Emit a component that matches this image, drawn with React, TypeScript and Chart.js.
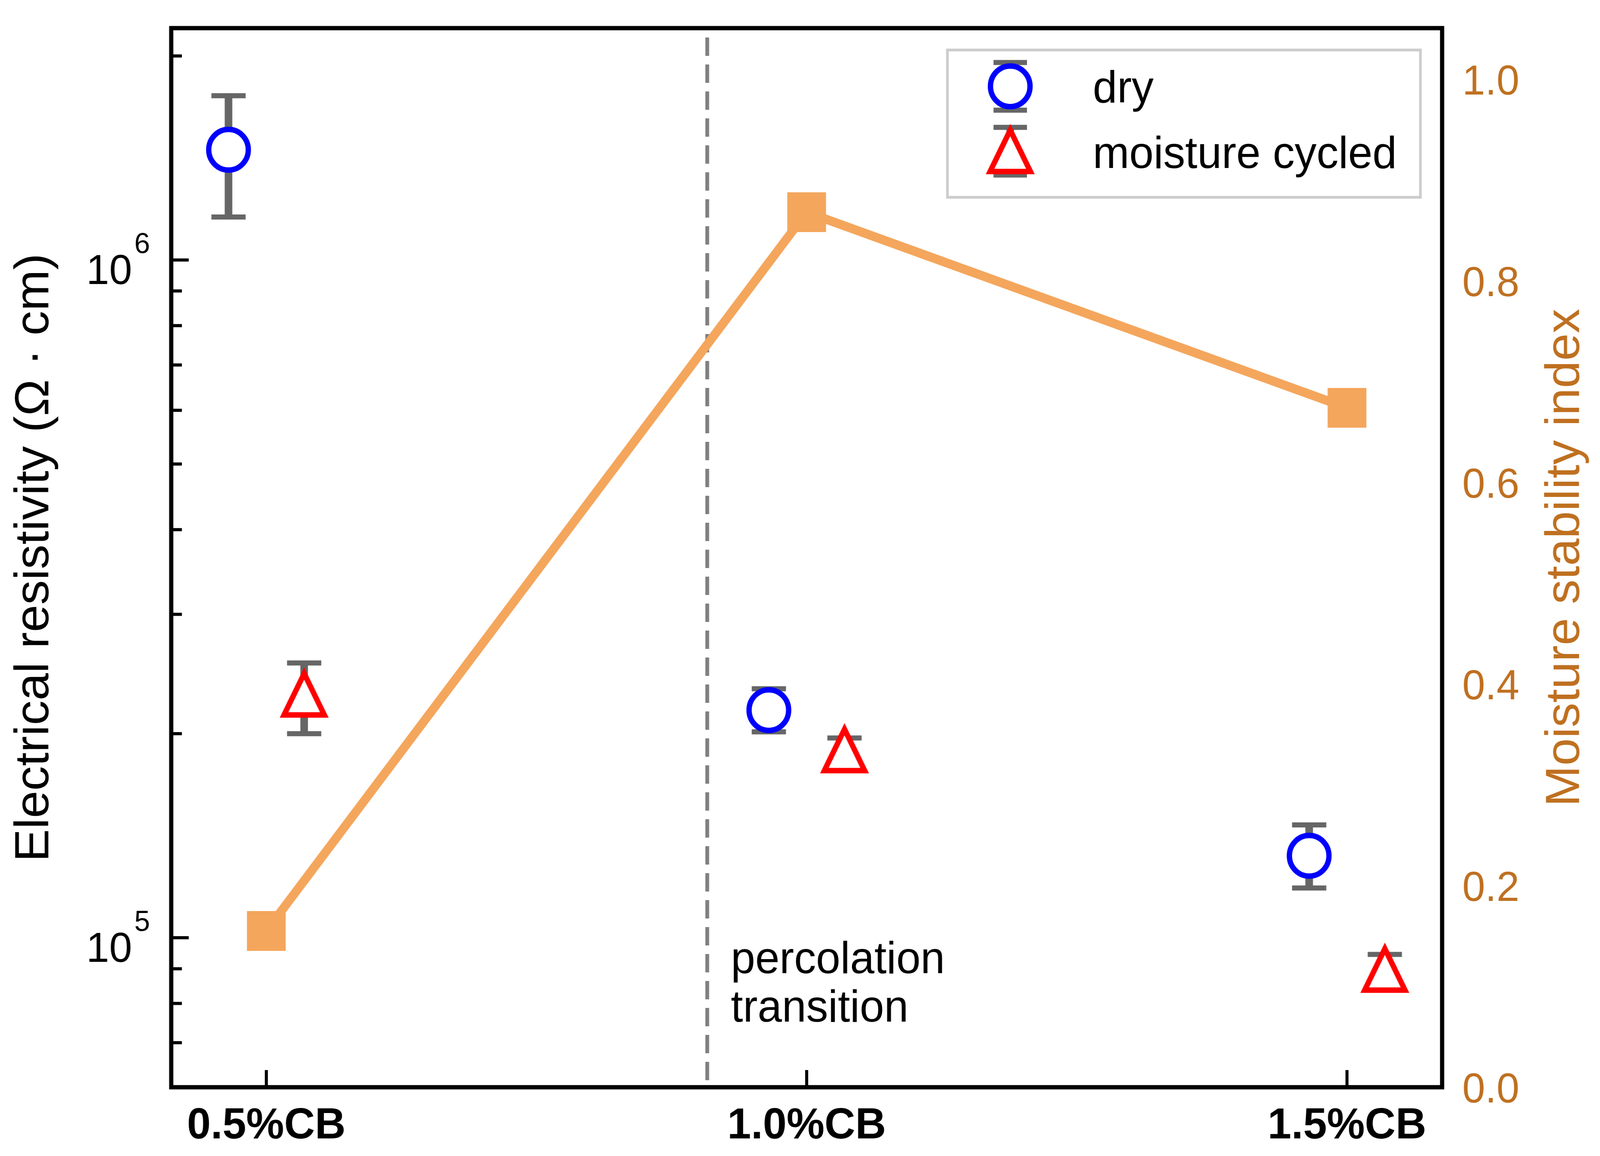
import React, { useEffect, useRef } from 'react';
import { Chart, registerables } from 'chart.js';

Chart.register(...registerables);

const W = 4205;
const H = 2959;

// ---- data ----
const categories = ['0.5%CB', '1.0%CB', '1.5%CB'];
const cbContent = [0.5, 1.0, 1.5];
const dryResistivity = [1.454e6, 2.167e5, 1.321e5];
const dryUpper = [1.747e6, 2.33e5, 1.467e5];
const dryLower = [1.157e6, 2.013e5, 1.184e5];
const moistResistivity = [2.287e5, 1.893e5, 8.98e4];
const moistUpper = [2.543e5, 1.971e5, 9.45e4];
const moistLower = [2.0e5, 1.817e5, 8.53e4];
const stabilityIndex = [0.155, 0.868, 0.674];
const rightTicks = [0, 0.2, 0.4, 0.6, 0.8, 1.0];
const leftMajorTicks = [1e5, 1e6];
const leftMinorTicks = [7e4, 8e4, 9e4, 2e5, 3e5, 4e5, 5e5, 6e5, 7e5, 8e5, 9e5, 2e6];
const percolationX = 0.908;
const dodge = 0.035;

// ---- styles ----
const FONT = '"Liberation Sans", Arial, Helvetica, sans-serif';
const ORANGE = '#F4A65C';
const RIGHT_COLOR = '#BF7020';
const ERR_COLOR = '#666666';
const BLUE = '#0000FF';
const RED = '#FF0000';

function makeTriangle(): HTMLCanvasElement {
  const c = document.createElement('canvas');
  c.width = 150;
  c.height = 150;
  const g = c.getContext('2d')!;
  const cx = 75, cy = 75, s = 53;
  g.beginPath();
  g.moveTo(cx, cy - s);
  g.lineTo(cx - s, cy + s);
  g.lineTo(cx + s, cy + s);
  g.closePath();
  g.fillStyle = '#ffffff';
  g.fill();
  g.lineWidth = 14;
  g.lineJoin = 'miter';
  g.miterLimit = 10;
  g.strokeStyle = RED;
  g.stroke();
  return c;
}

function drawCircleMarker(ctx: CanvasRenderingContext2D, x: number, y: number) {
  ctx.beginPath();
  ctx.arc(x, y, 52, 0, Math.PI * 2);
  ctx.fillStyle = '#ffffff';
  ctx.fill();
  ctx.lineWidth = 14;
  ctx.strokeStyle = BLUE;
  ctx.stroke();
}

function drawErrorBar(ctx: CanvasRenderingContext2D, px: number, pHi: number, pLo: number, capHalf = 45) {
  ctx.save();
  ctx.strokeStyle = ERR_COLOR;
  ctx.lineCap = 'butt';
  ctx.lineWidth = 20;
  ctx.beginPath();
  ctx.moveTo(px, pHi);
  ctx.lineTo(px, pLo);
  ctx.stroke();
  ctx.lineWidth = 13;
  ctx.beginPath();
  ctx.moveTo(px - capHalf, pHi);
  ctx.lineTo(px + capHalf, pHi);
  ctx.moveTo(px - capHalf, pLo);
  ctx.lineTo(px + capHalf, pLo);
  ctx.stroke();
  ctx.restore();
}

export default function App() {
  const ref = useRef<HTMLCanvasElement | null>(null);

  useEffect(() => {
    document.body.style.margin = '0';
    document.body.style.overflow = 'hidden';
    const canvas = ref.current;
    if (!canvas) return;
    // fit the 4205x2959 drawing into the actual viewport
    canvas.style.width = `${window.innerWidth}px`;
    canvas.style.height = `${window.innerHeight}px`;
    const tri = makeTriangle();

    const decorations = {
      id: 'decorations',
      beforeDatasetsDraw(chart: any) {
        const ctx: CanvasRenderingContext2D = chart.ctx;
        const { x, y } = chart.scales;
        const area = chart.chartArea;
        const px = x.getPixelForValue(percolationX);
        ctx.save();
        ctx.strokeStyle = '#808080';
        ctx.lineWidth = 10;
        ctx.setLineDash([47, 22]);
        ctx.lineDashOffset = 51;
        ctx.beginPath();
        ctx.moveTo(px, area.bottom);
        ctx.lineTo(px, area.top);
        ctx.stroke();
        ctx.restore();
        cbContent.forEach((cb, i) => {
          drawErrorBar(ctx, x.getPixelForValue(cb - dodge), y.getPixelForValue(dryUpper[i]), y.getPixelForValue(dryLower[i]));
          drawErrorBar(ctx, x.getPixelForValue(cb + dodge), y.getPixelForValue(moistUpper[i]), y.getPixelForValue(moistLower[i]));
        });
      },
      afterDatasetsDraw(chart: any) {
        const ctx: CanvasRenderingContext2D = chart.ctx;
        const { x, y, y1 } = chart.scales;
        const area = chart.chartArea;
        ctx.save();
        // frame
        ctx.strokeStyle = '#000000';
        ctx.lineWidth = 11;
        ctx.strokeRect(area.left, area.top, area.right - area.left, area.bottom - area.top);
        // ticks
        ctx.lineWidth = 8;
        ctx.beginPath();
        leftMajorTicks.forEach((v) => {
          const p = y.getPixelForValue(v);
          ctx.moveTo(area.left, p);
          ctx.lineTo(area.left + 46, p);
        });
        leftMinorTicks.forEach((v) => {
          const p = y.getPixelForValue(v);
          ctx.moveTo(area.left, p);
          ctx.lineTo(area.left + 28, p);
        });
        cbContent.forEach((cb) => {
          const p = x.getPixelForValue(cb);
          ctx.moveTo(p, area.bottom);
          ctx.lineTo(p, area.bottom - 44);
        });
        ctx.stroke();

        // left tick labels 10^n
        ctx.fillStyle = '#000000';
        ctx.textBaseline = 'alphabetic';
        leftMajorTicks.forEach((v) => {
          const p = y.getPixelForValue(v);
          const exp = Math.round(Math.log10(v));
          ctx.font = `108px ${FONT}`;
          ctx.textAlign = 'right';
          ctx.fillText('10', area.left - 103, p + 62);
          ctx.font = `74px ${FONT}`;
          ctx.textAlign = 'left';
          ctx.fillText(String(exp), area.left - 97, p - 17);
        });

        // bottom tick labels
        ctx.font = `bold 112px ${FONT}`;
        ctx.textAlign = 'center';
        categories.forEach((c, i) => {
          ctx.fillText(c, x.getPixelForValue(cbContent[i]), area.bottom + 131);
        });

        // right tick labels
        ctx.fillStyle = RIGHT_COLOR;
        ctx.font = `108px ${FONT}`;
        ctx.textAlign = 'left';
        rightTicks.forEach((v) => {
          ctx.fillText(v.toFixed(1), area.right + 53, y1.getPixelForValue(v) + 39);
        });

        // axis titles
        const cy = (area.top + area.bottom) / 2;
        ctx.font = `126px ${FONT}`;
        ctx.textAlign = 'center';
        ctx.save();
        ctx.translate(127, cy);
        ctx.rotate(-Math.PI / 2);
        ctx.fillStyle = '#000000';
        ctx.fillText('Electrical resistivity (Ω · cm)', 0, 0);
        ctx.restore();
        ctx.save();
        ctx.translate(area.right + 360, cy);
        ctx.rotate(-Math.PI / 2);
        ctx.fillStyle = RIGHT_COLOR;
        ctx.fillText('Moisture stability index', 0, 0);
        ctx.restore();

        // percolation annotation
        const px = x.getPixelForValue(percolationX);
        ctx.fillStyle = '#000000';
        ctx.font = `115px ${FONT}`;
        ctx.textAlign = 'left';
        ctx.fillText('percolation', px + 62, 2491);
        ctx.fillText('transition', px + 62, 2615);

        // legend
        const lx = area.right - 1300;
        const ly = area.top + 56;
        ctx.fillStyle = '#ffffff';
        ctx.fillRect(lx, ly, 1243, 377);
        ctx.strokeStyle = '#CCCCCC';
        ctx.lineWidth = 7;
        ctx.strokeRect(lx, ly, 1243, 377);
        const mx = lx + 165;
        const dryY = ly + 93;
        const moY = ly + 258;
        drawErrorBar(ctx, mx, dryY - 61, dryY + 61, 44);
        drawCircleMarker(ctx, mx, dryY);
        drawErrorBar(ctx, mx, moY - 60, moY + 62, 44);
        ctx.drawImage(tri, mx - tri.width / 2, moY - tri.height / 2);
        ctx.fillStyle = '#000000';
        ctx.font = `115px ${FONT}`;
        ctx.textAlign = 'left';
        ctx.fillText('dry', lx + 382, ly + 134);
        ctx.fillText('moisture cycled', lx + 382, ly + 302);
        ctx.restore();
      },
    };

    const chart = new Chart(canvas, {
      type: 'scatter',
      data: {
        datasets: [
          {
            type: 'line',
            label: 'Moisture stability index',
            data: cbContent.map((cb, i) => ({ x: cb, y: stabilityIndex[i] })),
            yAxisID: 'y1',
            borderColor: ORANGE,
            borderWidth: 23,
            borderJoinStyle: 'round',
            tension: 0,
            pointStyle: 'rect',
            pointRadius: 72,
            pointBackgroundColor: ORANGE,
            pointBorderWidth: 0,
            pointBorderColor: ORANGE,
            order: 3,
          } as any,
          {
            label: 'dry',
            data: cbContent.map((cb, i) => ({ x: cb - dodge, y: dryResistivity[i] })),
            yAxisID: 'y',
            pointStyle: 'circle',
            pointRadius: 52,
            pointBorderWidth: 14,
            pointBorderColor: BLUE,
            pointBackgroundColor: '#ffffff',
            showLine: false,
            order: 1,
          },
          {
            label: 'moisture cycled',
            data: cbContent.map((cb, i) => ({ x: cb + dodge, y: moistResistivity[i] })),
            yAxisID: 'y',
            pointStyle: tri as any,
            pointRadius: 60,
            showLine: false,
            order: 0,
          },
        ],
      },
      options: {
        responsive: false,
        devicePixelRatio: 1,
        animation: false,
        events: [],
        layout: { padding: { left: 450, right: 415, top: 42, bottom: 176 } },
        plugins: { legend: { display: false }, tooltip: { enabled: false } },
        scales: {
          x: { type: 'linear', min: 0.412, max: 1.588, display: false, bounds: 'data' },
          y: { type: 'logarithmic', min: 6.018e4, max: 2.198e6, display: false, bounds: 'data' },
          y1: { type: 'linear', position: 'right', min: 0, max: 1.0506, display: false, bounds: 'data' },
        },
      } as any,
      plugins: [decorations],
    });

    return () => chart.destroy();
  }, []);

  return (
    <div style={{ background: '#ffffff' }}>
      <canvas ref={ref} width={W} height={H} style={{ display: 'block' }} />
    </div>
  );
}
